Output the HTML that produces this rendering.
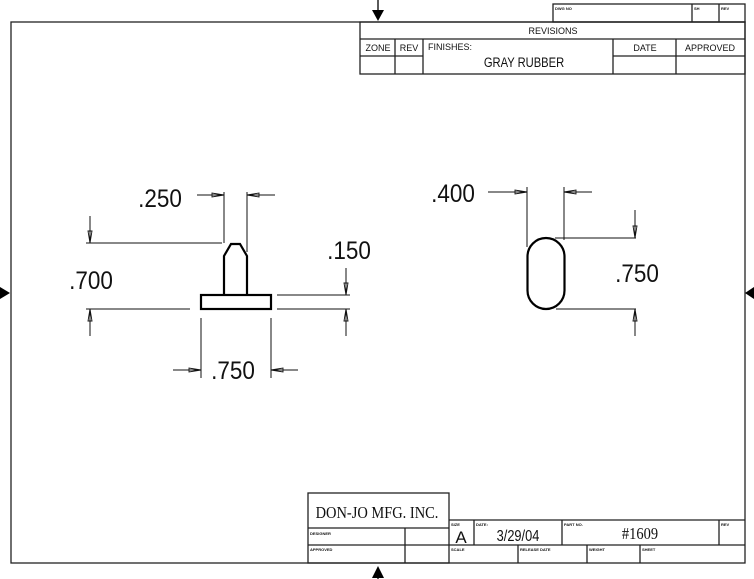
<!DOCTYPE html>
<html><head><style>body{margin:0;background:#fff}svg{display:block}text{font-family:"Liberation Sans",sans-serif;fill:#111}</style></head>
<body>
<svg width="754" height="579" viewBox="0 0 754 579" xmlns="http://www.w3.org/2000/svg">
<g fill="none" stroke="#222" stroke-width="1.3">
<rect x="11" y="22" width="734" height="541"/>
<rect x="553" y="4" width="192" height="18"/>
<line x1="692" y1="4" x2="692" y2="22"/><line x1="719" y1="4" x2="719" y2="22"/>
<rect x="360" y="22" width="385" height="52"/>
<line x1="360" y1="39" x2="745" y2="39"/><line x1="360" y1="56" x2="423" y2="56"/><line x1="613" y1="56" x2="745" y2="56"/>
<line x1="395" y1="39" x2="395" y2="74"/><line x1="423" y1="39" x2="423" y2="74"/><line x1="613" y1="39" x2="613" y2="74"/><line x1="676" y1="39" x2="676" y2="74"/>
<rect x="308" y="493" width="141" height="70"/>
<line x1="308" y1="528" x2="449" y2="528"/><line x1="308" y1="545" x2="745" y2="545"/>
<line x1="405" y1="528" x2="405" y2="563"/>
<line x1="449" y1="520" x2="745" y2="520"/>
<line x1="474" y1="520" x2="474" y2="545"/><line x1="562" y1="520" x2="562" y2="545"/><line x1="719" y1="520" x2="719" y2="545"/>
<line x1="518" y1="545" x2="518" y2="563"/><line x1="587" y1="545" x2="587" y2="563"/><line x1="640" y1="545" x2="640" y2="563"/>
</g>
<g fill="#000">
<line x1="378" y1="0" x2="378" y2="12" stroke="#000" stroke-width="1.3"/>
<polygon points="372,10 384,10 378,21"/>
<line x1="378" y1="568" x2="378" y2="579" stroke="#000" stroke-width="1.3"/>
<polygon points="372,578 384,578 378,566"/>
<polygon points="0,287 0,299 10,293"/>
<polygon points="754,287 754,299 745,293"/>
</g>
<g font-size="7" font-weight="bold">
<text x="555" y="10" font-size="4">DWG NO</text><text x="694" y="10" font-size="4">SH</text><text x="721" y="10" font-size="4">REV</text>
<text x="310" y="535" font-size="4">DESIGNER</text><text x="310" y="551" font-size="4">APPROVED</text>
<text x="451" y="526" font-size="4">SIZE</text><text x="476" y="526" font-size="4">DATE:</text><text x="564" y="526" font-size="4">PART NO.</text><text x="721" y="526" font-size="4">REV</text>
<text x="451" y="551" font-size="4">SCALE</text><text x="520" y="551" font-size="4">RELEASE DATE</text><text x="589" y="551" font-size="4">WEIGHT</text><text x="642" y="551" font-size="4">SHEET</text>
</g>
<g font-size="9">
<text x="553" y="34" text-anchor="middle">REVISIONS</text>
<text x="378" y="51" text-anchor="middle">ZONE</text><text x="409" y="51" text-anchor="middle">REV</text>
<text x="428" y="50">FINISHES:</text><text x="645" y="51" text-anchor="middle">DATE</text><text x="710" y="51" text-anchor="middle">APPROVED</text>
</g>
<text x="524" y="67" font-size="14" text-anchor="middle" transform="translate(524 0) scale(0.8 1) translate(-524 0)">GRAY RUBBER</text>
<text x="377" y="518" font-size="17" text-anchor="middle" style="font-family:'Liberation Serif',serif" transform="translate(377 0) scale(0.85 1) translate(-377 0)">DON-JO MFG. INC.</text>
<text x="461" y="543" font-size="17" text-anchor="middle">A</text>
<text x="518" y="541" font-size="16" text-anchor="middle" transform="translate(518 0) scale(0.8 1) translate(-518 0)">3/29/04</text>
<text x="640" y="539" font-size="17" text-anchor="middle" style="font-family:'Liberation Serif',serif" transform="translate(640 0) scale(0.85 1) translate(-640 0)">#1609</text>
<g fill="none" stroke="#111" stroke-width="1">
<line x1="224" y1="192" x2="224" y2="243"/><line x1="247" y1="192" x2="247" y2="252"/>
<line x1="197" y1="195" x2="224" y2="195"/><line x1="247" y1="195" x2="275" y2="195"/>
<line x1="86" y1="243" x2="222" y2="243"/><line x1="86" y1="309" x2="190" y2="309"/>
<line x1="90" y1="216" x2="90" y2="243"/><line x1="90" y1="309" x2="90" y2="336"/>
<line x1="277" y1="295" x2="350" y2="295"/><line x1="277" y1="309" x2="350" y2="309"/>
<line x1="346" y1="268" x2="346" y2="295"/><line x1="346" y1="309" x2="346" y2="336"/>
<line x1="201" y1="318" x2="201" y2="378"/><line x1="271" y1="318" x2="271" y2="378"/>
<line x1="173" y1="370" x2="201" y2="370"/><line x1="271" y1="370" x2="298" y2="370"/>
<line x1="527" y1="187" x2="527" y2="247"/><line x1="564" y1="187" x2="564" y2="240"/>
<line x1="488" y1="192" x2="527" y2="192"/><line x1="564" y1="192" x2="592" y2="192"/>
<line x1="555" y1="238" x2="636" y2="238"/><line x1="556" y1="309" x2="636" y2="309"/>
<line x1="635" y1="210" x2="635" y2="238"/><line x1="635" y1="309" x2="635" y2="336"/>
</g>
<g fill="none" stroke="#111" stroke-width="0.9">
<polygon points="224,195 212,193 212,197"/><polygon points="247,195 259,193 259,197"/>
<polygon points="90,243 88,231 92,231"/><polygon points="90,309 88,321 92,321"/>
<polygon points="346,295 344,283 348,283"/><polygon points="346,309 344,321 348,321"/>
<polygon points="201,370 189,368 189,372"/><polygon points="271,370 283,368 283,372"/>
<polygon points="527,192 515,190 515,194"/><polygon points="564,192 576,190 576,194"/>
<polygon points="635,238 633,226 637,226"/><polygon points="635,309 633,321 637,321"/>
</g>
<g fill="none" stroke="#000" stroke-width="2.2">
<path d="M224,295 L224,256 L231,244 L240,244 L247,256 L247,295"/>
<rect x="201" y="295" width="70" height="14"/>
<rect x="527.5" y="238" width="37" height="71" rx="18.5"/>
</g>
<g font-size="25" style="fill:#333">
<text x="160" y="207" text-anchor="middle" transform="translate(160 0) scale(0.9 1) translate(-160 0)">.250</text>
<text x="91" y="289" text-anchor="middle" transform="translate(91 0) scale(0.9 1) translate(-91 0)">.700</text>
<text x="349" y="259" text-anchor="middle" transform="translate(349 0) scale(0.9 1) translate(-349 0)">.150</text>
<text x="233" y="379" text-anchor="middle" transform="translate(233 0) scale(0.9 1) translate(-233 0)">.750</text>
<text x="453" y="202" text-anchor="middle" transform="translate(453 0) scale(0.9 1) translate(-453 0)">.400</text>
<text x="637" y="282" text-anchor="middle" transform="translate(637 0) scale(0.9 1) translate(-637 0)">.750</text>
</g>
</svg>
</body></html>
